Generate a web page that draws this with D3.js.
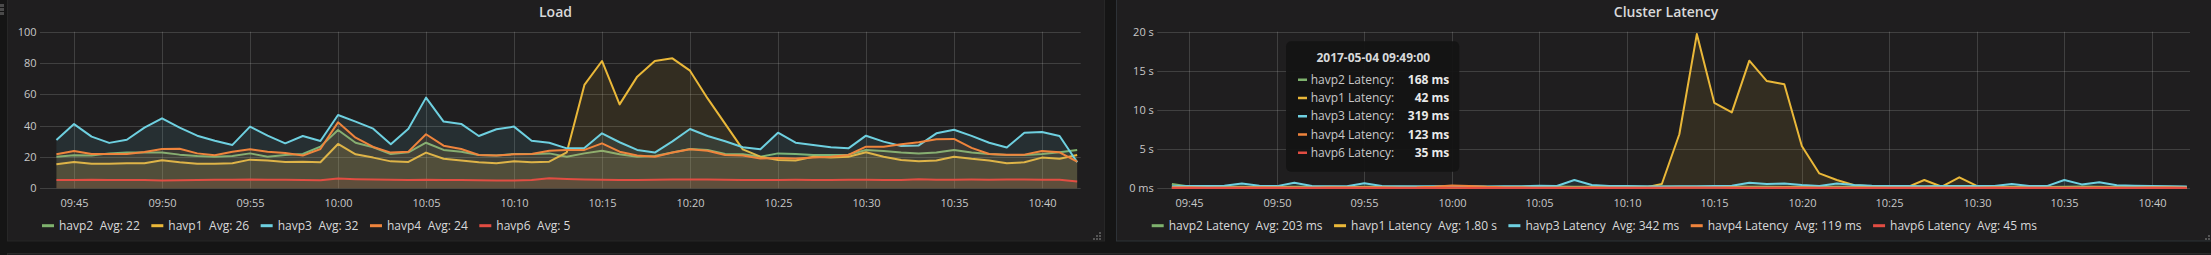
<!DOCTYPE html>
<html><head><meta charset="utf-8">
<script src="https://cdn.jsdelivr.net/npm/d3@7"></script>
<style>
html,body{margin:0;padding:0;background:#151515;overflow:hidden;}
svg{display:block;font-family:"Open Sans",sans-serif;}
</style></head><body>
<svg id="c" width="2211" height="255"></svg>
<script>
// ---------- data ----------
const startTime = "2017-05-04T09:44:00";   // first sample, one per minute
const seriesColors = ["#7EB26D", "#EAB839", "#6ED0E0", "#EF843C", "#E24D42"];

// Load panel
const loadNames = ["havp2", "havp1", "havp3", "havp4", "havp6"];
const loadAvgLabels = ["Avg: 22", "Avg: 26", "Avg: 32", "Avg: 24", "Avg: 5"];
const loadTicks = [0, 20, 40, 60, 80, 100];
const loadHavp2 = [20.2,21.1,20.9,22.3,22.8,22.8,22.8,21.5,20.6,20.2,
  20.6,22.3,20.2,21.3,21.9,26.6,37.2,29.1,26.2,21.9,
  23.0,29.1,24.5,23.4,21.3,20.9,21.9,21.9,22.3,20.2,
  22.3,24.0,21.7,20.2,20.6,22.8,25.1,24.5,21.9,21.7,
  20.2,22.3,21.9,21.3,21.3,21.5,24.5,23.8,22.8,22.3,
  22.8,24.5,22.8,21.9,21.3,21.3,21.9,23.0,24.5];
const loadHavp1 = [15.3,16.8,15.7,15.7,16.0,16.0,17.9,16.6,15.7,15.7,
  16.0,18.3,17.7,16.8,17.0,16.6,28.3,21.7,19.6,17.2,
  16.8,22.8,18.9,17.7,16.6,16.0,17.2,16.6,17.0,23.0,
  66.0,81.3,53.6,71.3,81.3,83.0,75.1,57.4,41.1,24.9,
  20.2,18.1,17.7,20.2,19.6,20.2,23.0,20.2,18.1,17.2,
  17.7,20.2,18.8,17.7,16.0,16.6,19.6,18.9,21.3];
const loadHavp3 = [30.9,41.0,33.0,29.0,31.0,38.7,44.7,38.7,33.6,30.4,
  27.7,39.4,33.6,28.7,33.4,30.2,46.8,42.6,38.1,28.1,
  38.1,57.9,42.6,41.1,33.4,37.7,39.4,30.4,29.1,25.5,
  25.7,35.1,29.4,24.5,22.8,30.0,37.9,33.4,30.0,26.2,
  24.9,35.5,29.1,27.7,26.2,25.5,33.6,29.8,27.0,27.4,
  35.1,37.4,33.5,29.1,26.0,35.5,36.0,33.4,16.6];
const loadHavp4 = [21.7,23.8,21.9,21.9,21.9,23.2,25.1,25.3,22.3,21.1,
  23.4,24.9,23.4,22.6,20.9,25.1,42.1,32.3,26.4,22.8,
  23.4,34.5,27.2,25.1,21.3,20.9,21.7,21.9,24.0,24.5,
  24.5,28.7,23.4,20.9,20.2,22.8,24.9,24.0,21.3,20.9,
  19.1,19.4,19.1,19.6,20.2,21.3,26.6,26.6,28.1,29.4,
  31.3,31.5,25.8,21.9,21.5,21.5,23.8,23.0,17.0];
const loadHavp6 = [5.3,5.3,5.5,5.3,5.3,5.3,5.0,5.2,5.3,5.4,
  5.5,5.6,5.4,5.5,5.3,5.2,6.2,5.8,5.6,5.5,
  5.3,5.5,5.3,5.3,5.2,5.0,5.0,5.3,6.4,5.9,
  5.6,5.5,5.3,5.3,5.5,5.6,5.6,5.6,5.4,5.3,
  5.3,5.3,5.4,5.3,5.3,5.4,5.5,5.3,5.3,5.8,
  5.5,5.5,5.6,5.5,5.6,5.6,5.4,5.4,4.3];

// Cluster Latency panel (values in ms)
const latNames = ["havp2 Latency", "havp1 Latency", "havp3 Latency", "havp4 Latency", "havp6 Latency"];
const latAvgLabels = ["Avg: 203 ms", "Avg: 1.80 s", "Avg: 342 ms", "Avg: 119 ms", "Avg: 45 ms"];
const latTicks = [0, 5000, 10000, 15000, 20000];
const latHavp2 = [560,230,210,190,200,168,190,210,200,190,
  180,200,210,190,180,200,240,220,200,190,
  210,280,230,200,190,180,200,210,230,210,
  200,190,220,200,190,180,210,200,190,180,
  200,220,210,190,200,180,190,200,210,190,
  180,200,220,190,180,190,200,210,180];
const latHavp1 = [80,60,50,45,40,42,55,60,50,45,
  50,60,55,50,45,50,70,60,50,45,
  50,60,55,50,45,50,60,80,550,6900,
  19700,10900,9700,16300,13700,13300,5400,1900,1060,400,
  250,150,120,1060,200,1400,300,150,100,80,
  70,60,60,55,50,50,55,60,50];
const latHavp3 = [250,280,300,330,600,319,280,720,300,270,
  260,640,280,260,250,270,260,250,240,260,
  250,330,300,1060,420,300,280,250,240,260,
  270,300,320,720,560,600,420,300,600,420,
  330,300,280,260,280,300,290,280,560,300,
  280,1060,500,770,400,320,280,250,230];
const latHavp4 = [130,120,110,115,125,123,120,110,115,120,
  130,125,120,115,130,200,350,300,200,150,
  120,110,100,115,120,110,100,90,80,90,
  100,110,120,110,100,120,130,110,100,95,
  90,100,110,100,95,100,110,120,115,110,
  100,105,110,120,100,110,130,120,110];
const latHavp6 = [40,38,36,40,38,35,40,42,45,40,
  42,45,48,44,40,45,55,50,45,42,
  40,45,48,50,45,42,40,45,60,70,
  65,55,50,48,45,42,45,50,48,45,
  42,40,45,42,40,45,48,44,42,40,
  45,48,44,42,40,45,48,44,42];

// Tooltip (hover at 09:49)
const tooltipTitle = "2017-05-04 09:49:00";
const tooltipLabels = ["havp2 Latency:", "havp1 Latency:", "havp3 Latency:", "havp4 Latency:", "havp6 Latency:"];
const tooltipValues = ["168 ms", "42 ms", "319 ms", "123 ms", "35 ms"];

// ---------- drawing ----------
const svg = d3.select("#c");
const PANEL_BG = "#1f1e1f";
const GRID = "rgba(200,200,200,0.2)";
const TXT = "#d8d9da", TICK_TXT = "#c8c8c8";

const t0 = new Date(startTime);
function timesFor(n) { return d3.range(n).map(i => new Date(t0.getTime() + i * 60000)); }
const pt = s => new Date("2017-05-04T" + s);

// next-row panel strip at bottom
svg.append("rect").attr("x", 7.5).attr("y", 253.5).attr("width", 2210).attr("height", 20)
  .attr("fill", PANEL_BG).attr("stroke", "#292929");

// drag handle (top-left)
[4, 8, 12].forEach(yy => svg.append("rect").attr("x", 0).attr("y", yy).attr("width", 4).attr("height", 3).attr("fill", "#4a4a4a"));

function drawPanel(cfg) {
  const g = svg.append("g");
  g.append("rect").attr("x", cfg.px + 0.5).attr("y", -5).attr("width", cfg.pw).attr("height", 246)
    .attr("fill", PANEL_BG).attr("stroke", cfg.border);
  g.append("text").attr("x", cfg.px + cfg.pw / 2).attr("y", 17).attr("text-anchor", "middle")
    .attr("font-size", 14).attr("font-weight", 600).attr("fill", TXT).text(cfg.title);

  const x = d3.scaleTime().domain(cfg.xDomain).range(cfg.xRange);
  const y = d3.scaleLinear().domain(cfg.yDomain).range([188.3, 31.7]);

  // horizontal grid + y labels
  cfg.yTicks.forEach(v => {
    const yy = Math.round(y(v)) + 0.5;
    g.append("line").attr("x1", cfg.xRange[0]).attr("x2", cfg.xRange[1]).attr("y1", yy).attr("y2", yy)
      .attr("stroke", GRID).attr("stroke-width", 1);
    g.append("text").attr("x", cfg.xRange[0] - 3.5).attr("y", yy).attr("dy", "0.35em")
      .attr("text-anchor", "end").attr("font-size", 11).attr("fill", TICK_TXT).text(cfg.yFmt(v));
  });
  // vertical grid + x labels
  x.ticks(d3.timeMinute.every(5)).forEach(tk => {
    const xx = Math.round(x(tk)) + 0.5;
    g.append("line").attr("x1", xx).attr("x2", xx).attr("y1", 31.7).attr("y2", 188.3)
      .attr("stroke", GRID).attr("stroke-width", 1);
    g.append("text").attr("x", xx).attr("y", 207).attr("text-anchor", "middle")
      .attr("font-size", 11).attr("fill", TICK_TXT).text(d3.timeFormat("%H:%M")(tk));
  });

  // series: fill + line, in series order
  cfg.series.forEach((vals, i) => {
    const times = timesFor(vals.length);
    const data = vals.map((v, k) => [times[k], v]);
    const area = d3.area().x(d => x(d[0])).y0(y(0)).y1(d => y(d[1]));
    const line = d3.line().x(d => x(d[0])).y(d => y(d[1]));
    g.append("path").attr("d", area(data)).attr("fill", seriesColors[i]).attr("fill-opacity", 0.1);
    g.append("path").attr("d", line(data)).attr("fill", "none").attr("stroke", seriesColors[i])
      .attr("stroke-width", 2).attr("stroke-linejoin", "round");
  });

  // legend
  let lx = cfg.legendX;
  cfg.names.forEach((nm, i) => {
    g.append("rect").attr("x", lx).attr("y", 224.2).attr("width", 12).attr("height", 3).attr("fill", seriesColors[i]);
    const t1 = g.append("text").attr("x", lx + 17).attr("y", 230).attr("font-size", 12).attr("fill", TXT).text(nm);
    const w1 = t1.node().getComputedTextLength();
    const ax = lx + 17 + w1 + 6.5;
    const t2 = g.append("text").attr("x", ax).attr("y", 230).attr("font-size", 12).attr("fill", TXT).text(cfg.avgs[i]);
    const w2 = t2.node().getComputedTextLength();
    lx = ax + w2 + 11.5;
  });

  // resize handle bottom-right
  const hx = cfg.px + cfg.pw - 5, hy = 238;
  [[0,0],[-3,0],[-6,0],[0,-3],[-3,-3],[0,-6]].forEach(([dx, dy]) =>
    g.append("rect").attr("x", hx + dx).attr("y", hy + dy).attr("width", 2).attr("height", 2).attr("fill", "#555"));
  return { g, x, y };
}

drawPanel({
  px: 7, pw: 1097, title: "Load", border: "#272727",
  xDomain: [pt("09:43:04"), pt("10:42:12")], xRange: [40, 1080.7],
  yDomain: [0, 100], yTicks: loadTicks, yFmt: v => String(v),
  series: [loadHavp2, loadHavp1, loadHavp3, loadHavp4, loadHavp6],
  names: loadNames, avgs: loadAvgLabels, legendX: 42
});

drawPanel({
  px: 1116, pw: 1100, title: "Cluster Latency", border: "#2d3237",
  xDomain: [pt("09:43:10"), pt("10:42:11")], xRange: [1157.3, 2190],
  yDomain: [0, 20000], yTicks: latTicks, yFmt: v => v === 0 ? "0 ms" : (v / 1000) + " s",
  series: [latHavp2, latHavp1, latHavp3, latHavp4, latHavp6],
  names: latNames, avgs: latAvgLabels, legendX: 1151.7
});

// tooltip
const tt = svg.append("g");
tt.append("rect").attr("x", 1286).attr("y", 41.3).attr("width", 173.3).attr("height", 130.4)
  .attr("rx", 5).attr("fill", "#141414").attr("fill-opacity", 0.95);
tt.append("text").attr("x", 1373.3).attr("y", 61.6).attr("text-anchor", "middle")
  .attr("font-size", 12).attr("font-weight", 700).attr("fill", TXT).text(tooltipTitle);
tooltipLabels.forEach((lb, i) => {
  const cy = 79.7 + i * 18.25;
  tt.append("rect").attr("x", 1298).attr("y", cy - 1.2).attr("width", 9).attr("height", 2.5).attr("fill", seriesColors[i]);
  tt.append("text").attr("x", 1310.7).attr("y", cy + 4.2).attr("font-size", 12).attr("fill", TICK_TXT).text(lb);
  tt.append("text").attr("x", 1449.3).attr("y", cy + 4.2).attr("text-anchor", "end")
    .attr("font-size", 12).attr("font-weight", 700).attr("fill", "#e9e9e9").text(tooltipValues[i]);
});
</script>
</body></html>
